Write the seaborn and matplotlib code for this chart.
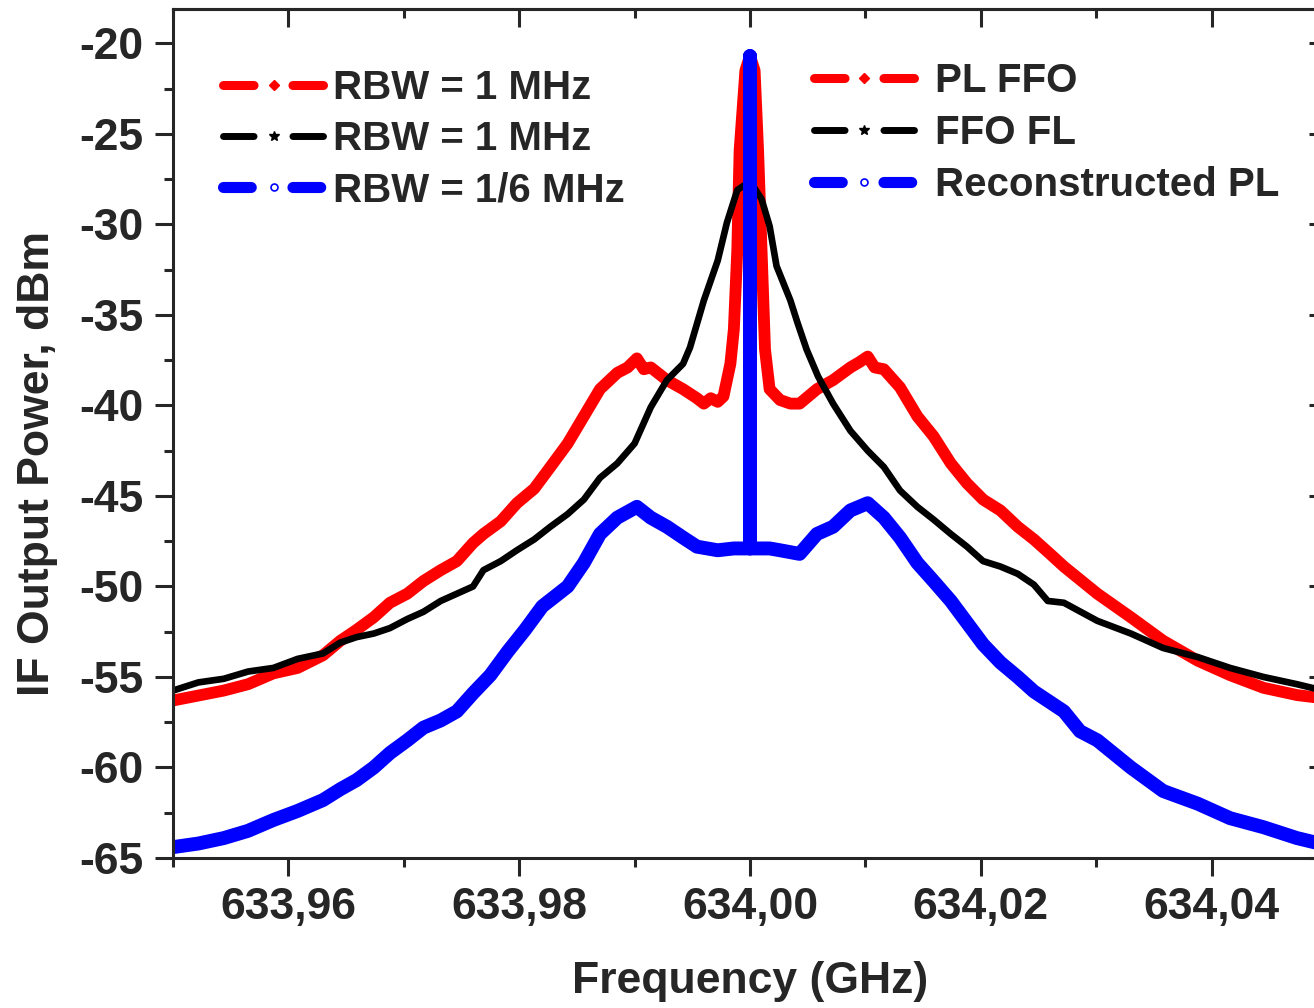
import numpy as np
import pandas as pd
import matplotlib
matplotlib.use("Agg")
import matplotlib.pyplot as plt
from matplotlib.lines import Line2D
from matplotlib.ticker import MultipleLocator, FuncFormatter
import seaborn as sns

# ---------------- data ----------------
red_f = [633.9500, 633.9544, 633.9565, 633.9587, 633.9608, 633.9630, 633.9645, 633.9659,
         633.9674, 633.9688, 633.9703, 633.9717, 633.9732, 633.9746, 633.9760, 633.9769,
         633.9784, 633.9798, 633.9813, 633.9827, 633.9842, 633.9856, 633.9870, 633.9885,
         633.9894, 633.9902, 633.9908, 633.9914, 633.9928, 633.9942, 633.9954, 633.9960,
         633.9966, 633.9972, 633.9977, 633.9983, 633.9986, 633.9989, 633.9991, 633.9996,
         634.0000, 634.0004, 634.0007, 634.0010, 634.0013, 634.0017, 634.0026, 634.0035,
         634.0043, 634.0058, 634.0072, 634.0087, 634.0095, 634.0102, 634.0108, 634.0116,
         634.0130, 634.0145, 634.0159, 634.0174, 634.0188, 634.0202, 634.0217, 634.0232,
         634.0246, 634.0260, 634.0272, 634.0301, 634.0330, 634.0358, 634.0388, 634.0416,
         634.0445, 634.0474, 634.0500]
red_p = [-56.3, -55.75, -55.4, -54.8, -54.5, -53.8, -53.0, -52.4,
         -51.7, -50.9, -50.4, -49.7, -49.1, -48.6, -47.6, -47.1,
         -46.4, -45.4, -44.6, -43.4, -42.1, -40.6, -39.1, -38.2,
         -37.9, -37.4, -38.0, -37.9, -38.6, -39.1, -39.6, -39.9,
         -39.6, -39.8, -39.5, -37.7, -35.8, -31.4, -25.9, -21.5,
         -20.7, -21.5, -25.9, -31.4, -36.9, -39.1, -39.7, -39.9,
         -39.9, -39.1, -38.6, -37.9, -37.6, -37.3, -37.9, -38.0,
         -39.0, -40.6, -41.7, -43.2, -44.3, -45.2, -45.8, -46.7,
         -47.4, -48.2, -48.9, -50.4, -51.7, -53.0, -54.1, -54.9,
         -55.6, -56.0, -56.2]

black_f = [633.9500, 633.9522, 633.9544, 633.9565, 633.9587, 633.9608, 633.9630, 633.9645,
           633.9659, 633.9674, 633.9688, 633.9703, 633.9717, 633.9732, 633.9746, 633.9760,
           633.9769, 633.9784, 633.9798, 633.9813, 633.9827, 633.9842, 633.9856, 633.9870,
           633.9885, 633.9900, 633.9914, 633.9928, 633.9942, 633.9948, 633.9960, 633.9972,
           633.9980, 633.9989, 633.9996, 634.0003, 634.0010, 634.0017, 634.0023, 634.0035,
           634.0041, 634.0049, 634.0059, 634.0072, 634.0087, 634.0102, 634.0116, 634.0130,
           634.0145, 634.0159, 634.0174, 634.0188, 634.0202, 634.0217, 634.0232, 634.0246,
           634.0258, 634.0272, 634.0301, 634.0330, 634.0358, 634.0388, 634.0416, 634.0445,
           634.0474, 634.0500]
black_p = [-55.75, -55.3, -55.1, -54.7, -54.5, -54.0, -53.7, -53.1,
           -52.8, -52.6, -52.3, -51.8, -51.4, -50.8, -50.4, -50.0,
           -49.1, -48.6, -48.0, -47.4, -46.7, -46.0, -45.2, -44.0,
           -43.2, -42.1, -40.1, -38.6, -37.7, -36.8, -34.2, -32.0,
           -29.9, -28.1, -27.8, -27.9, -28.6, -30.1, -32.3, -34.2,
           -35.4, -36.9, -38.4, -39.9, -41.4, -42.5, -43.4, -44.7,
           -45.6, -46.3, -47.1, -47.8, -48.6, -48.9, -49.3, -49.9,
           -50.8, -50.9, -51.9, -52.6, -53.4, -53.9, -54.5, -55.0,
           -55.4, -55.8]

blue_f = [633.9500, 633.9522, 633.9544, 633.9565, 633.9587, 633.9608, 633.9630, 633.9645,
          633.9659, 633.9674, 633.9688, 633.9703, 633.9717, 633.9732, 633.9746, 633.9760,
          633.9775, 633.9790, 633.9805, 633.9820, 633.9842, 633.9856, 633.9870, 633.9885,
          633.9902, 633.9914, 633.9928, 633.9942, 633.9954, 633.9972, 633.9986, 634.0000,
          634.0000, 634.0000, 634.0017, 634.0026, 634.0043, 634.0058, 634.0072, 634.0087,
          634.0102, 634.0116, 634.0130, 634.0145, 634.0159, 634.0174, 634.0188, 634.0202,
          634.0217, 634.0232, 634.0246, 634.0272, 634.0286, 634.0301, 634.0330, 634.0358,
          634.0388, 634.0416, 634.0445, 634.0474, 634.0500]
blue_p = [-64.4, -64.2, -63.9, -63.5, -62.9, -62.4, -61.8, -61.2,
          -60.7, -60.0, -59.2, -58.5, -57.8, -57.4, -56.9, -55.9,
          -54.9, -53.6, -52.4, -51.1, -50.0, -48.7, -47.1, -46.2,
          -45.6, -46.2, -46.7, -47.3, -47.8, -48.0, -47.9, -47.9,
          -20.7, -47.9, -47.9, -48.0, -48.2, -47.1, -46.7, -45.8,
          -45.4, -46.2, -47.3, -48.7, -49.7, -50.8, -52.0, -53.2,
          -54.2, -55.0, -55.8, -56.9, -58.0, -58.5, -60.0, -61.3,
          -62.0, -62.8, -63.3, -63.9, -64.3]

legend1_labels = ["RBW = 1 MHz", "RBW = 1 MHz", "RBW = 1/6 MHz"]
legend2_labels = ["PL FFO", "FFO FL", "Reconstructed PL"]
x_ticks = [633.96, 633.98, 634.00, 634.02, 634.04]
y_ticks = [-65, -60, -55, -50, -45, -40, -35, -30, -25, -20]

# ---------------- style ----------------
sns.set_style("ticks")
plt.rcParams["font.family"] = ["Liberation Sans", "DejaVu Sans"]
plt.rcParams["font.weight"] = "bold"
plt.rcParams["axes.unicode_minus"] = False
plt.rcParams["lines.scale_dashes"] = False

fig = plt.figure(figsize=(13.14, 10.08), dpi=100)
W, H = 1314.0, 1008.0
ax = fig.add_axes([173 / W, (H - 858) / H, 1154 / W, 849 / H])

df_red = pd.DataFrame({"freq": red_f, "power": red_p})
df_black = pd.DataFrame({"freq": black_f, "power": black_p})
df_blue = pd.DataFrame({"freq": blue_f, "power": blue_p})

common = dict(estimator=None, sort=False, ax=ax, legend=False)
sns.lineplot(data=df_red, x="freq", y="power", color="#ff0000", lw=8.5,
             solid_joinstyle="round", solid_capstyle="round", **common)
sns.lineplot(data=df_black, x="freq", y="power", color="#000000", lw=4.8,
             solid_joinstyle="round", solid_capstyle="round", **common)
sns.lineplot(data=df_blue, x="freq", y="power", color="#0000ff", lw=10,
             solid_joinstyle="round", solid_capstyle="round", **common)

ax.set_xlim(633.95, 634.05)
ax.set_ylim(-65, -18.1)

fmt_x = FuncFormatter(lambda v, p: f"{v:.2f}".replace(".", ","))
ax.xaxis.set_major_locator(MultipleLocator(0.02))
ax.xaxis.set_minor_locator(MultipleLocator(0.01))
ax.set_xticks(x_ticks)
ax.xaxis.set_major_formatter(fmt_x)
ax.yaxis.set_major_locator(MultipleLocator(5))
ax.yaxis.set_minor_locator(MultipleLocator(2.5))
ax.set_yticks(y_ticks)
ax.yaxis.set_major_formatter(FuncFormatter(lambda v, p: f"{v:.0f}"))

ax.tick_params(which="major", direction="out", length=13, width=2.2,
               labelsize=32, pad=8)
ax.tick_params(which="minor", direction="out", length=6.5, width=2.2)
for lab in ax.get_xticklabels() + ax.get_yticklabels():
    lab.set_fontweight("bold")

for s in ax.spines.values():
    s.set_linewidth(2.2)
    s.set_visible(True)

# inward ticks on top and right
secx = ax.secondary_xaxis("top")
secx.xaxis.set_major_locator(MultipleLocator(0.02))
secx.xaxis.set_minor_locator(MultipleLocator(0.01))
secx.tick_params(which="major", direction="in", length=13, width=2.2, labeltop=False)
secx.tick_params(which="minor", direction="in", length=6.5, width=2.2)
secx.spines["top"].set_linewidth(2.2)
secy = ax.secondary_yaxis("right")
secy.yaxis.set_major_locator(MultipleLocator(5))
secy.yaxis.set_minor_locator(MultipleLocator(2.5))
secy.tick_params(which="major", direction="in", length=13, width=2.2, labelright=False)
secy.tick_params(which="minor", direction="in", length=6.5, width=2.2)
secy.spines["right"].set_linewidth(2.2)

ax.set_xlabel("Frequency (GHz)", fontsize=32, fontweight="bold", labelpad=24)
ax.set_ylabel("IF Output Power, dBm", fontsize=32, fontweight="bold")
ax.yaxis.set_label_coords(-0.100, 0.465)


def handles():
    return [
        Line2D([], [], color="#ff0000", lw=6.5, linestyle=(0, (22, 28)),
               dash_capstyle="round", marker="D", markersize=5,
               markeredgecolor="#ff0000", markerfacecolor="#ff0000"),
        Line2D([], [], color="#000000", lw=5, linestyle=(0, (22, 28)),
               dash_capstyle="round", marker="*", markersize=7,
               markeredgecolor="#000000", markerfacecolor="#000000"),
        Line2D([], [], color="#0000ff", lw=8, linestyle=(0, (20, 30)),
               dash_capstyle="round", marker="o", markersize=5,
               markeredgecolor="#0000ff", markerfacecolor="white", markeredgewidth=1.2),
    ]


leg_kw = dict(loc="upper left", frameon=False, handlelength=2.5,
              borderpad=0, borderaxespad=0,
              numpoints=1, prop={"weight": "bold", "size": 29})
leg1 = ax.legend(handles(), legend1_labels, bbox_to_anchor=(0.0435, 0.929),
                 handletextpad=0.22, labelspacing=0.32, **leg_kw)
ax.add_artist(leg1)
leg2 = ax.legend(handles(), legend2_labels, bbox_to_anchor=(0.5555, 0.937),
                 handletextpad=0.5, labelspacing=0.34, **leg_kw)

fig.savefig("out.png", dpi=100)
